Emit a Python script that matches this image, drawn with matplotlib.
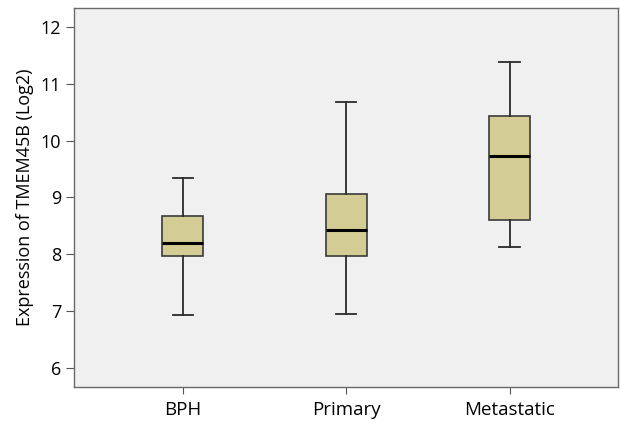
import matplotlib.pyplot as plt

# box statistics (log2 expression)
groups = ["BPH", "Primary", "Metastatic"]
whislo = [6.93, 6.95, 8.13]
q1 = [7.97, 7.97, 8.60]
med = [8.19, 8.43, 9.73]
q3 = [8.67, 9.06, 10.44]
whishi = [9.35, 10.68, 11.38]

plt.rcParams['font.family'] = ['Open Sans', 'DejaVu Sans']

fig = plt.figure(figsize=(6.21, 4.22), dpi=100)
ax = fig.add_axes([0.119, 0.083, 0.876, 0.899])
ax.set_facecolor('#f0f0f0')

stats = []
for i in range(len(groups)):
    stats.append({'label': groups[i], 'whislo': whislo[i], 'q1': q1[i],
                  'med': med[i], 'q3': q3[i], 'whishi': whishi[i], 'fliers': []})

ax.bxp(stats, positions=[1, 2, 3], widths=0.25, patch_artist=True,
       showfliers=False,
       boxprops=dict(facecolor='#d3cc94', edgecolor='#3a3a3a', linewidth=1.2),
       medianprops=dict(color='black', linewidth=2.2),
       whiskerprops=dict(color='#2a2a2a', linewidth=1.3),
       capprops=dict(color='#2a2a2a', linewidth=1.3))

ax.set_xlim(0.333, 3.663)
ax.set_ylim(5.666, 12.34)
ax.set_yticks([6, 7, 8, 9, 10, 11, 12])
ax.tick_params(axis='y', labelsize=13, length=6, color='#555555', pad=3)
ax.tick_params(axis='x', labelsize=13.5, length=5, color='#555555', pad=5)
for s in ax.spines.values():
    s.set_color('#6a6a6a')
    s.set_linewidth(1.0)

ax.set_ylabel("Expression of TMEM45B (Log2)", fontsize=13, labelpad=5)

fig.savefig("out.png", dpi=100)
